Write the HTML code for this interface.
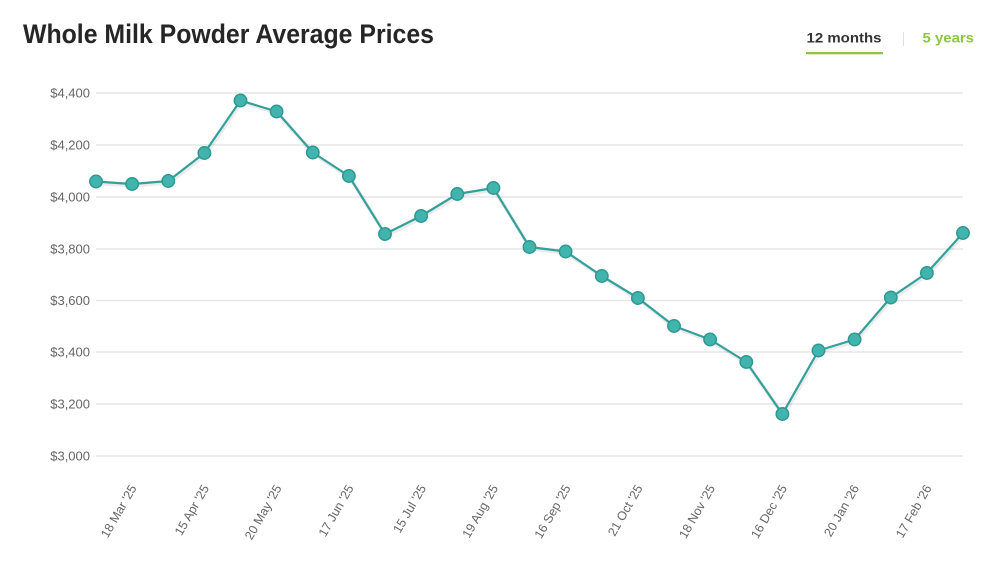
<!DOCTYPE html>
<html><head><meta charset="utf-8"><style>
html,body{margin:0;padding:0;background:#fff;}
svg{display:block;}
text{font-family:"Liberation Sans",sans-serif;}
</style></head><body>
<svg width="1005" height="567" viewBox="0 0 1005 567" xmlns="http://www.w3.org/2000/svg">
<rect width="1005" height="567" fill="#fff"/>
<text x="23" y="43" font-size="27" font-weight="bold" fill="#262626" textLength="411" lengthAdjust="spacingAndGlyphs">Whole Milk Powder Average Prices</text>
<text x="806.5" y="42.7" font-size="14" font-weight="bold" fill="#333" textLength="75" lengthAdjust="spacingAndGlyphs">12 months</text>
<rect x="806" y="52" width="77" height="2.3" fill="#8dc44a"/>
<rect x="903" y="32" width="1" height="14" fill="#dedede"/>
<text x="922.5" y="42.7" font-size="14" font-weight="bold" fill="#8dc63f" textLength="51.5" lengthAdjust="spacingAndGlyphs">5 years</text>
<g stroke="#e6e6e6" stroke-width="1.5">
<line x1="96" y1="93" x2="963" y2="93"/>
<line x1="96" y1="145" x2="963" y2="145"/>
<line x1="96" y1="197" x2="963" y2="197"/>
<line x1="96" y1="249" x2="963" y2="249"/>
<line x1="96" y1="300.5" x2="963" y2="300.5"/>
<line x1="96" y1="352" x2="963" y2="352"/>
<line x1="96" y1="404" x2="963" y2="404"/>
<line x1="96" y1="456" x2="963" y2="456"/>
</g>
<g font-size="13" fill="#666" text-anchor="end">
<text x="90" y="97.5">$4,400</text>
<text x="90" y="149.5">$4,200</text>
<text x="90" y="201.5">$4,000</text>
<text x="90" y="253.5">$3,800</text>
<text x="90" y="305">$3,600</text>
<text x="90" y="356.5">$3,400</text>
<text x="90" y="408.5">$3,200</text>
<text x="90" y="460.5">$3,000</text>
</g>
<g font-size="12.5" fill="#666" text-anchor="end">
<text transform="translate(137,488) rotate(-60)">18 Mar '25</text>
<text transform="translate(209.5,488) rotate(-60)">15 Apr '25</text>
<text transform="translate(282,488) rotate(-60)">20 May '25</text>
<text transform="translate(354,488) rotate(-60)">17 Jun '25</text>
<text transform="translate(426.5,488) rotate(-60)">15 Jul '25</text>
<text transform="translate(498.5,488) rotate(-60)">19 Aug '25</text>
<text transform="translate(571,488) rotate(-60)">16 Sep '25</text>
<text transform="translate(643,488) rotate(-60)">21 Oct '25</text>
<text transform="translate(715.5,488) rotate(-60)">18 Nov '25</text>
<text transform="translate(787.5,488) rotate(-60)">16 Dec '25</text>
<text transform="translate(859.5,488) rotate(-60)">20 Jan '26</text>
<text transform="translate(932,488) rotate(-60)">17 Feb '26</text>
</g>
<polyline fill="none" stroke="#000" stroke-opacity="0.08" stroke-width="4" transform="translate(1,1.5)" points="96,181.5 132.1,184 168.3,181 204.4,153 240.5,100.5 276.6,111.5 312.8,152.5 348.9,176 385,234 421.1,216 457.3,194 493.4,188 529.5,247 565.6,251.5 601.8,276 637.9,298 674,326 710.1,339.5 746.3,362 782.4,414 818.5,350.5 854.6,339.5 890.8,297.5 926.9,273 963,233"/>
<polyline fill="none" stroke="#33a09a" stroke-width="2.2" stroke-linejoin="round" points="96,181.5 132.1,184 168.3,181 204.4,153 240.5,100.5 276.6,111.5 312.8,152.5 348.9,176 385,234 421.1,216 457.3,194 493.4,188 529.5,247 565.6,251.5 601.8,276 637.9,298 674,326 710.1,339.5 746.3,362 782.4,414 818.5,350.5 854.6,339.5 890.8,297.5 926.9,273 963,233"/>
<g fill="#41b4ad" stroke="#2e9891" stroke-width="1.5">
<circle cx="96" cy="181.5" r="6.2"/>
<circle cx="132.1" cy="184" r="6.2"/>
<circle cx="168.3" cy="181" r="6.2"/>
<circle cx="204.4" cy="153" r="6.2"/>
<circle cx="240.5" cy="100.5" r="6.2"/>
<circle cx="276.6" cy="111.5" r="6.2"/>
<circle cx="312.8" cy="152.5" r="6.2"/>
<circle cx="348.9" cy="176" r="6.2"/>
<circle cx="385" cy="234" r="6.2"/>
<circle cx="421.1" cy="216" r="6.2"/>
<circle cx="457.3" cy="194" r="6.2"/>
<circle cx="493.4" cy="188" r="6.2"/>
<circle cx="529.5" cy="247" r="6.2"/>
<circle cx="565.6" cy="251.5" r="6.2"/>
<circle cx="601.8" cy="276" r="6.2"/>
<circle cx="637.9" cy="298" r="6.2"/>
<circle cx="674" cy="326" r="6.2"/>
<circle cx="710.1" cy="339.5" r="6.2"/>
<circle cx="746.3" cy="362" r="6.2"/>
<circle cx="782.4" cy="414" r="6.2"/>
<circle cx="818.5" cy="350.5" r="6.2"/>
<circle cx="854.6" cy="339.5" r="6.2"/>
<circle cx="890.8" cy="297.5" r="6.2"/>
<circle cx="926.9" cy="273" r="6.2"/>
<circle cx="963" cy="233" r="6.2"/>
</g>
</svg>
</body></html>
